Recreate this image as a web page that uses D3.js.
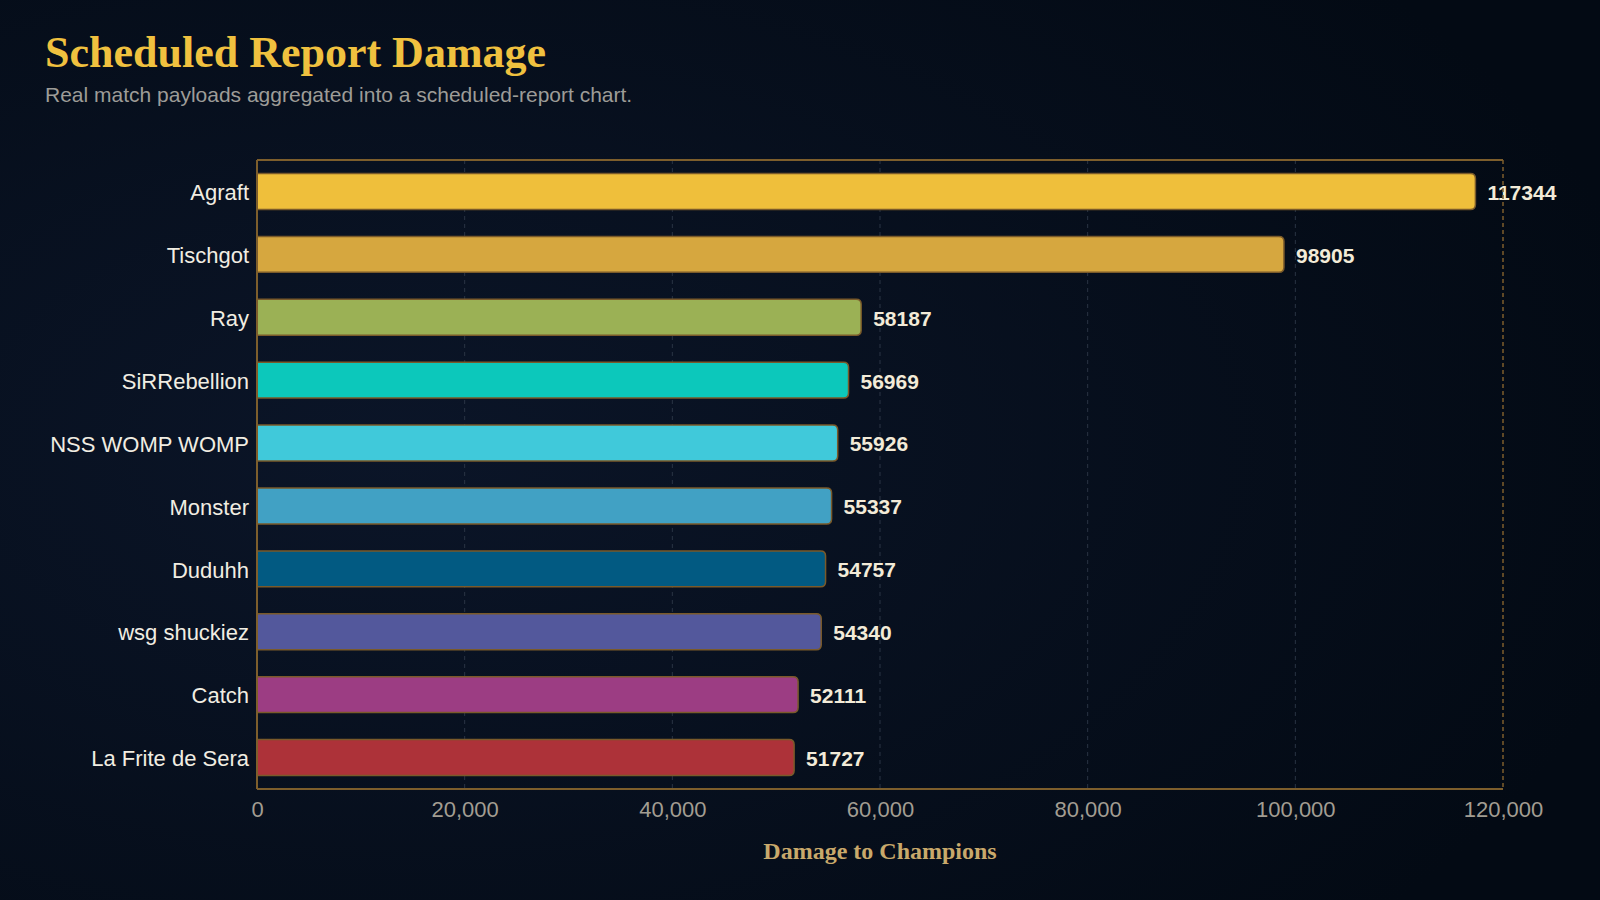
<!DOCTYPE html>
<html>
<head>
<meta charset="utf-8">
<title>Scheduled Report Damage</title>
<script src="https://d3js.org/d3.v7.min.js"></script>
<style>
  html, body { margin: 0; padding: 0; background: #050c17; }
  svg { display: block; }
</style>
</head>
<body>
<svg id="chart" width="1600" height="900"></svg>
<script>
// data
const players = ["Agraft", "Tischgot", "Ray", "SiRRebellion", "NSS WOMP WOMP",
                 "Monster", "Duduhh", "wsg shuckiez", "Catch", "La Frite de Sera"];
const damage = [117344, 98905, 58187, 56969, 55926, 55337, 54757, 54340, 52111, 51727];
const barColors = ["#efbf3b", "#d6a73f", "#9bb155", "#0cc8bb", "#40c9da",
                   "#41a1c4", "#025a82", "#53589c", "#9c3d83", "#ad3239"];
const xTicks = [0, 20000, 40000, 60000, 80000, 100000, 120000];

const W = 1600, H = 900;
const m = { top: 160, right: 97, bottom: 111, left: 257 };
const svg = d3.select("#chart");

// background
const defs = svg.append("defs");
const bg = defs.append("radialGradient").attr("id", "bg")
    .attr("cx", "25%").attr("cy", "50%").attr("r", "80%");
bg.append("stop").attr("offset", "0%").attr("stop-color", "#0b1528");
bg.append("stop").attr("offset", "100%").attr("stop-color", "#030a14");
svg.append("rect").attr("width", W).attr("height", H).attr("fill", "url(#bg)");

svg.append("text").attr("x", 45).attr("y", 67)
    .attr("font-family", "'Liberation Serif', serif").attr("font-weight", "bold")
    .attr("font-size", 44).attr("fill", "#f0c13f")
    .text("Scheduled Report Damage");
svg.append("text").attr("x", 45).attr("y", 102)
    .attr("font-family", "'Liberation Sans', sans-serif")
    .attr("font-size", 21).attr("fill", "#9d9c98")
    .text("Real match payloads aggregated into a scheduled-report chart.");

const x = d3.scaleLinear().domain([0, 120000]).range([m.left, W - m.right]);
const y = d3.scaleBand().domain(players).range([m.top, H - m.bottom])
    .paddingInner(0.43).paddingOuter(0.215);

// grid
svg.append("g").selectAll("line").data(xTicks.slice(1, -1)).join("line")
    .attr("x1", d => x(d)).attr("x2", d => x(d))
    .attr("y1", m.top).attr("y2", H - m.bottom)
    .attr("stroke", "#2a3444").attr("stroke-dasharray", "4,4").attr("stroke-width", 1);

// bars, right corners rounded
const r = 5;
function barPath(d, i) {
  const x0 = x(0), x1 = x(d), y0 = y(players[i]), h = y.bandwidth();
  return `M${x0},${y0}H${x1 - r}Q${x1},${y0} ${x1},${y0 + r}V${y0 + h - r}` +
         `Q${x1},${y0 + h} ${x1 - r},${y0 + h}H${x0}Z`;
}
svg.append("g").selectAll("path").data(damage).join("path")
    .attr("d", barPath)
    .attr("fill", (d, i) => barColors[i])
    .attr("stroke", "#7a5a2a").attr("stroke-width", 1.5);

// value labels
svg.append("g").selectAll("text").data(damage).join("text")
    .attr("x", d => x(d) + 12)
    .attr("y", (d, i) => y(players[i]) + y.bandwidth() / 2 + 1)
    .attr("dy", "0.35em")
    .attr("font-family", "'Liberation Sans', sans-serif").attr("font-weight", "bold")
    .attr("font-size", 21).attr("fill", "#f3ebd8")
    .text(d => d);

// category labels
svg.append("g").selectAll("text").data(players).join("text")
    .attr("x", m.left - 8)
    .attr("y", d => y(d) + y.bandwidth() / 2 + 1)
    .attr("dy", "0.35em").attr("text-anchor", "end")
    .attr("font-family", "'Liberation Sans', sans-serif")
    .attr("font-size", 22).attr("fill", "#f1ede2")
    .text(d => d);

// frame
const frame = svg.append("g").attr("stroke", "#7d5e2c").attr("stroke-width", 2).attr("fill", "none");
frame.append("line").attr("x1", m.left).attr("x2", W - m.right).attr("y1", m.top).attr("y2", m.top);
frame.append("line").attr("x1", m.left).attr("x2", m.left).attr("y1", m.top).attr("y2", H - m.bottom);
frame.append("line").attr("x1", m.left).attr("x2", W - m.right).attr("y1", H - m.bottom).attr("y2", H - m.bottom);
frame.append("line").attr("x1", W - m.right).attr("x2", W - m.right).attr("y1", m.top).attr("y2", H - m.bottom)
    .attr("stroke-dasharray", "4,3").attr("stroke-width", 1.5);

// x axis
const xAxis = svg.append("g").attr("transform", `translate(0,${H - m.bottom})`)
    .call(d3.axisBottom(x).tickValues(xTicks).tickFormat(d3.format(",")).tickSize(0).tickPadding(12));
xAxis.select(".domain").remove();
xAxis.selectAll("text")
    .attr("font-family", "'Liberation Sans', sans-serif")
    .attr("font-size", 22).attr("fill", "#a29d92");

svg.append("text").attr("x", (m.left + W - m.right) / 2).attr("y", 859)
    .attr("text-anchor", "middle")
    .attr("font-family", "'Liberation Serif', serif").attr("font-weight", "bold")
    .attr("font-size", 24).attr("fill", "#c9a96b")
    .text("Damage to Champions");
</script>
</body>
</html>
